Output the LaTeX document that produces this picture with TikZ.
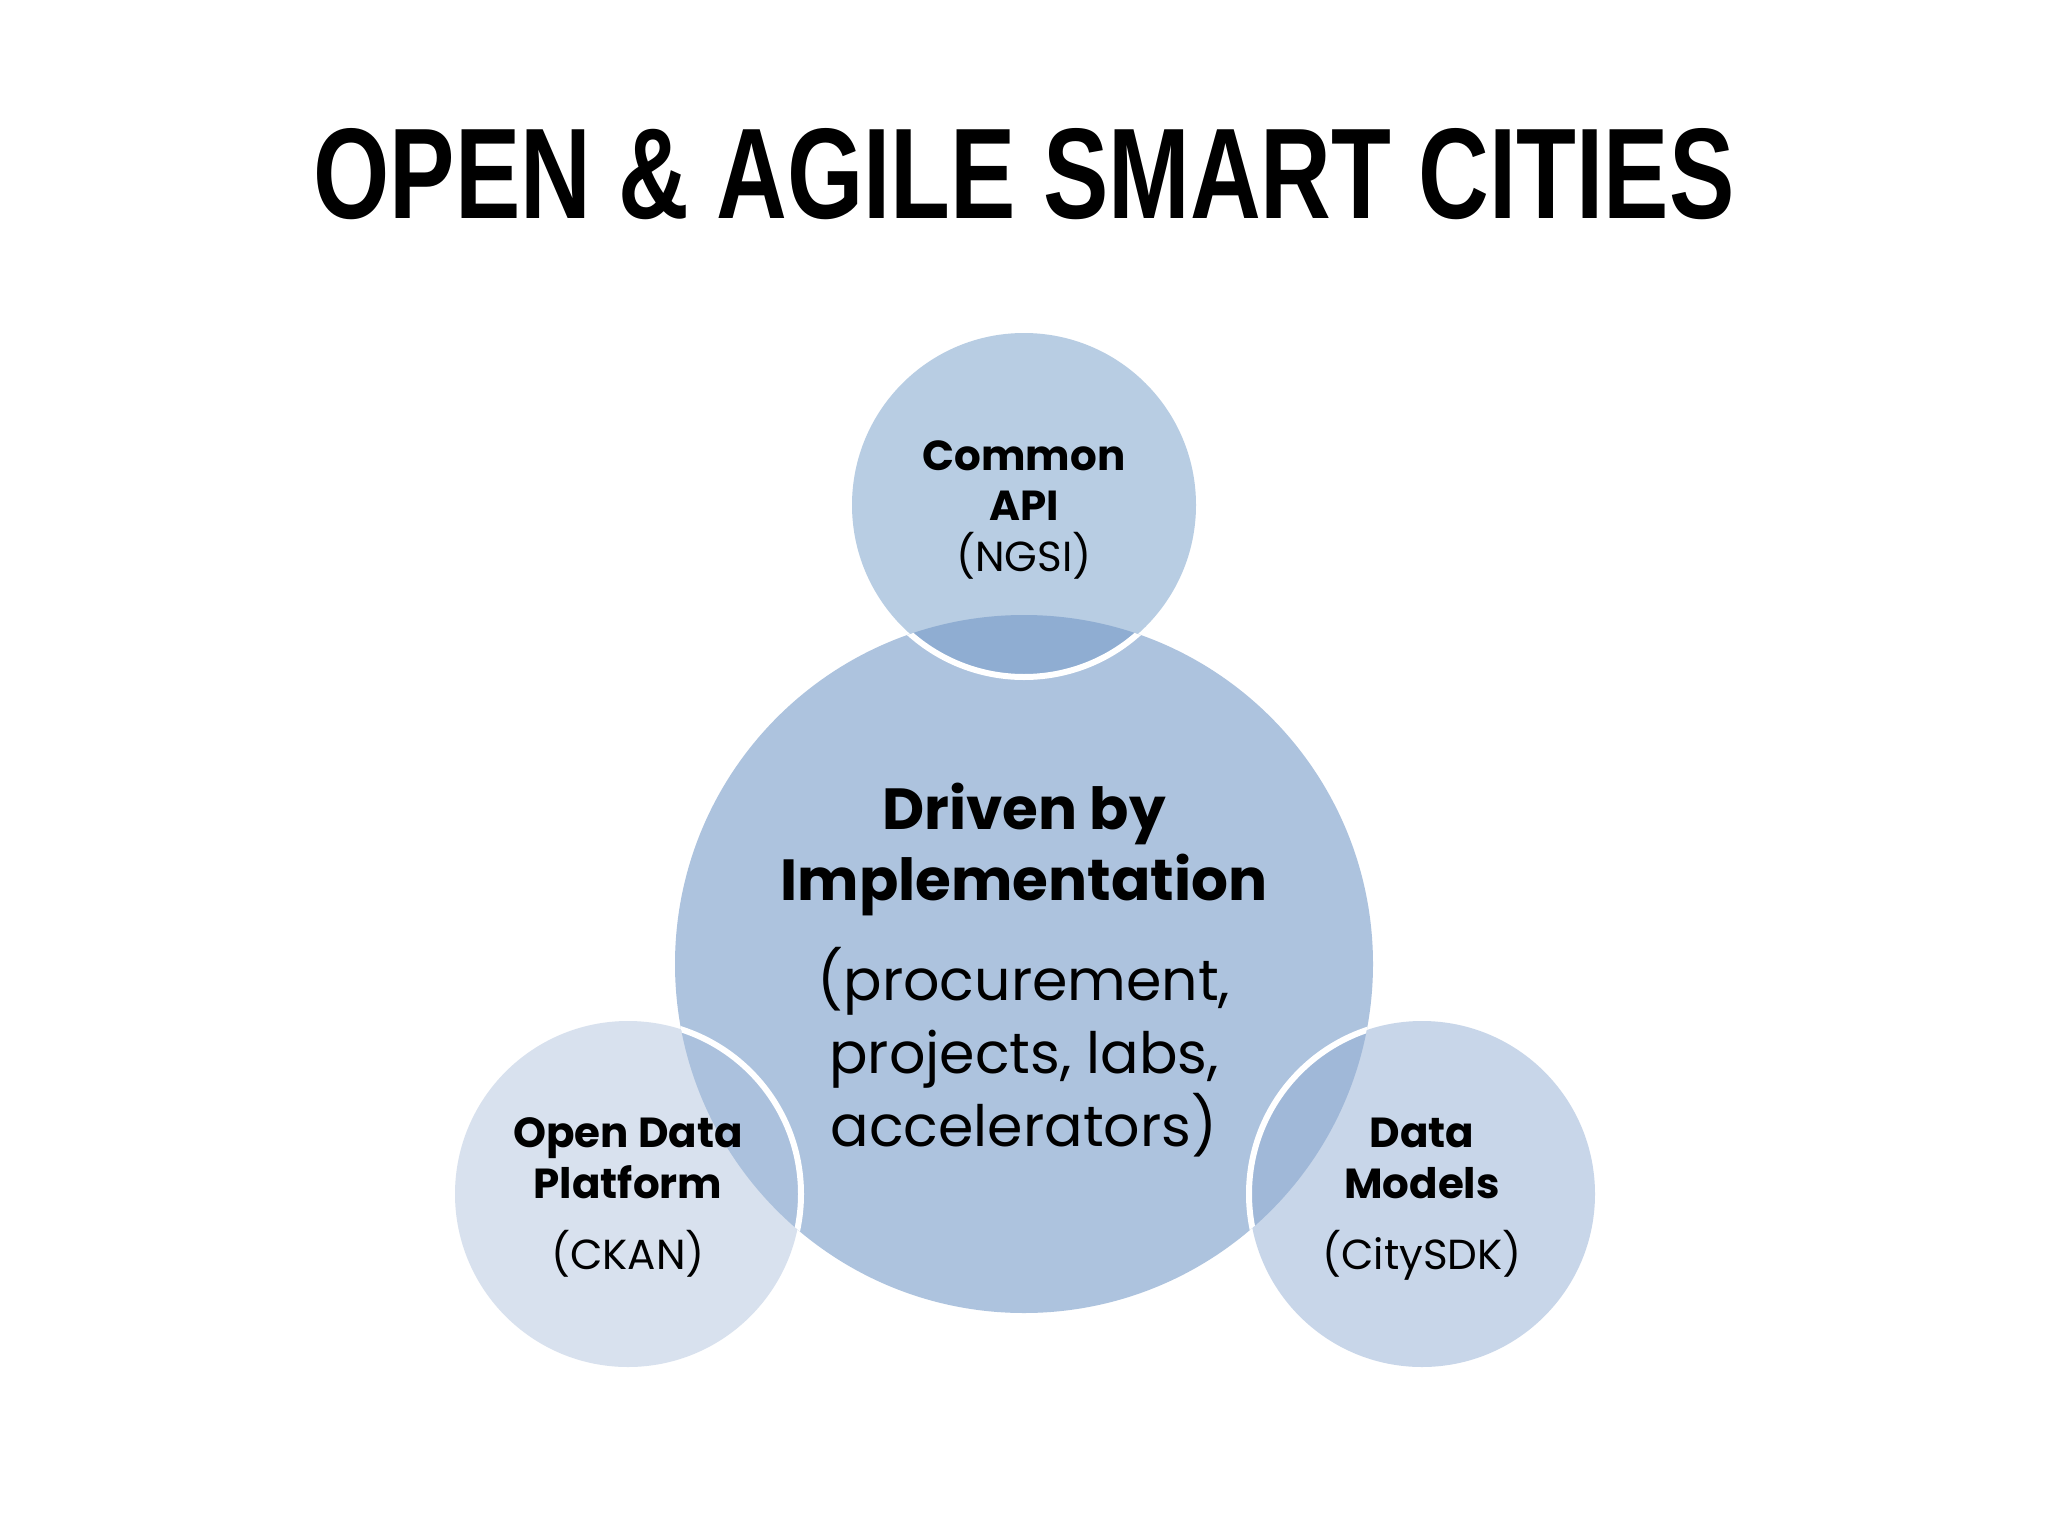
\documentclass[tikz,border=0pt]{standalone}
\usepackage{fontspec}
\setmainfont{Poppins}
\newfontfamily\titlefont{Liberation Sans}
\definecolor{coreC}{HTML}{ADC3DE}
\definecolor{topC}{HTML}{B8CDE3}
\definecolor{topOv}{HTML}{8FADD2}
\definecolor{leftC}{HTML}{D8E1EE}
\definecolor{leftOv}{HTML}{ABC1DD}
\definecolor{rightC}{HTML}{C8D6E9}
\definecolor{rightOv}{HTML}{A0B8D8}
\tikzset{
  disc/.style={circle, inner sep=0pt, draw=none},
  small/.style={font=\fontsize{42}{50}\selectfont\bfseries, anchor=mid, inner sep=0pt},
  smallreg/.style={font=\fontsize{42}{50}\selectfont, anchor=mid, inner sep=0pt},
  big/.style={font=\fontsize{58}{70}\selectfont\bfseries, anchor=mid, inner sep=0pt},
  bigreg/.style={font=\fontsize{57}{70}\selectfont, anchor=mid, inner sep=0pt},
  ring/.style={draw=white, line width=6pt}
}
\begin{document}
\begin{tikzpicture}[x=1pt,y=-1pt]
\useasboundingbox (0,0) rectangle (2048,1536);
\fill[white] (0,0) rectangle (2048,1536);
\node[inner sep=0pt] (title) at (1024,174) {\resizebox{1421pt}{90pt}{\titlefont\bfseries OPEN \& AGILE SMART CITIES}};
% circles
\node[disc, fill=coreC, minimum size=698pt] (core) at (1024,964) {};
\node[disc, fill=topC, minimum size=344pt] (top) at (1024,505) {};
\node[disc, fill=leftC, minimum size=346pt] (left) at (628,1194) {};
\node[disc, fill=rightC, minimum size=346pt] (right) at (1422,1194) {};
\begin{scope}
  \clip (core.center) circle[radius=349];
  \fill[topOv] (top.center) circle[radius=172];
  \fill[leftOv] (left.center) circle[radius=173];
  \fill[rightOv] (right.center) circle[radius=173];
  \draw[ring] (top.center) circle[radius=172];
  \draw[ring] (left.center) circle[radius=173];
  \draw[ring] (right.center) circle[radius=173];
\end{scope}
% texts
\node[small] (t1) at (1024,468) {Common};
\node[small] (t2) at (1024,518) {API};
\node[smallreg] (t3) at (1024,569) {(NGSI)};
\node[big] (c1) at (1024,827) {Driven by};
\node[big] (c2) at (1024,898) {Implementation};
\node[bigreg] (c3) at (1024,998) {(procurement,};
\node[bigreg] (c4) at (1024,1071) {projects, labs,};
\node[bigreg] (c5) at (1024,1144) {accelerators)};
\node[small] (l1) at (628,1145) {Open Data};
\node[small] (l2) at (628,1196) {Platform};
\node[smallreg] (l3) at (628,1267) {(CKAN)};
\node[small] (r1) at (1422,1145) {Data};
\node[small] (r2) at (1422,1196) {Models};
\node[smallreg] (r3) at (1422,1267) {(CitySDK)};
\end{tikzpicture}
\end{document}
